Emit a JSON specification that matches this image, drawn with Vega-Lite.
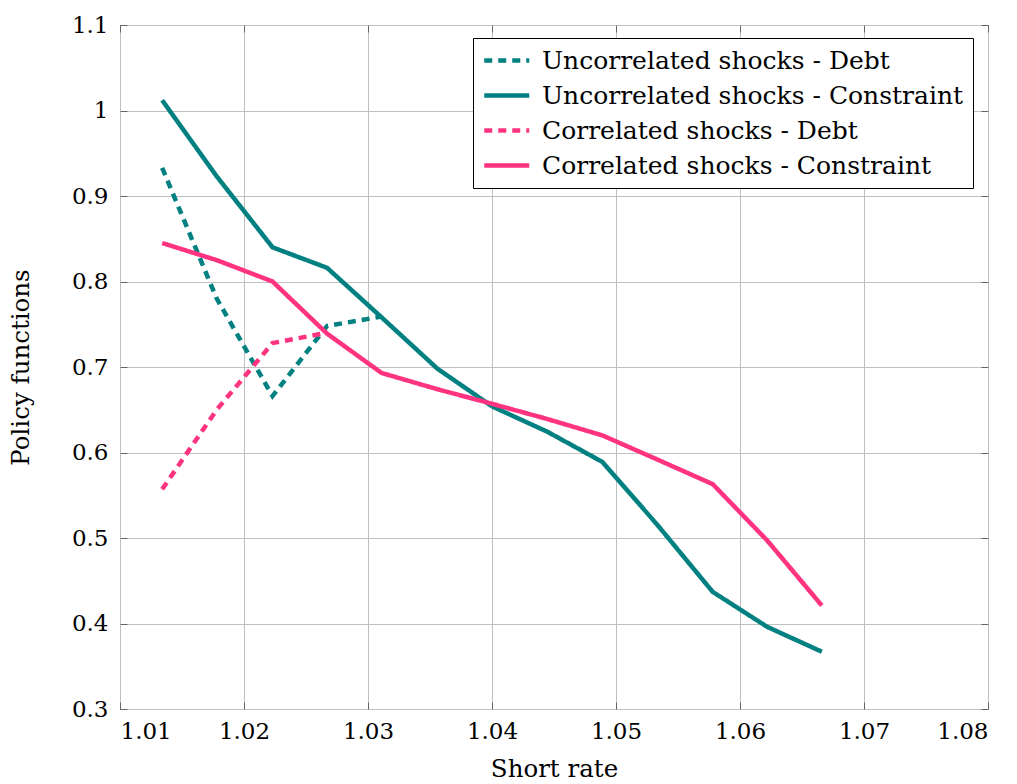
{
  "$schema": "https://vega.github.io/schema/vega-lite/v6.json",
  "width": 868,
  "height": 684,
  "autosize": {"type": "none"},
  "padding": {"left": 120, "top": 25, "right": 29, "bottom": 75},
  "background": "white",
  "config": {
    "view": {"stroke": "#000000", "strokeWidth": 1},
    "font": "DejaVu Serif",
    "axis": {
      "domain": false,
      "tickColor": "#666666",
      "tickSize": -7,
      "tickWidth": 1,
      "gridColor": "#c0c0c0",
      "gridWidth": 1,
      "labelFont": "DejaVu Serif",
      "labelFontSize": 23,
      "labelColor": "#000000",
      "titleFont": "DejaVu Serif",
      "titleFontSize": 24.5,
      "titleFontWeight": "normal",
      "titleColor": "#000000"
    }
  },
  "data": {
    "values": [
      {"x": 1.0134, "y": 0.933, "s": "Uncorrelated shocks - Debt"},
      {"x": 1.0178, "y": 0.780, "s": "Uncorrelated shocks - Debt"},
      {"x": 1.0223, "y": 0.666, "s": "Uncorrelated shocks - Debt"},
      {"x": 1.0267, "y": 0.748, "s": "Uncorrelated shocks - Debt"},
      {"x": 1.0311, "y": 0.759, "s": "Uncorrelated shocks - Debt"},
      {"x": 1.0134, "y": 1.012, "s": "Uncorrelated shocks - Constraint"},
      {"x": 1.0178, "y": 0.923, "s": "Uncorrelated shocks - Constraint"},
      {"x": 1.0223, "y": 0.840, "s": "Uncorrelated shocks - Constraint"},
      {"x": 1.0267, "y": 0.816, "s": "Uncorrelated shocks - Constraint"},
      {"x": 1.0311, "y": 0.758, "s": "Uncorrelated shocks - Constraint"},
      {"x": 1.0356, "y": 0.698, "s": "Uncorrelated shocks - Constraint"},
      {"x": 1.0400, "y": 0.654, "s": "Uncorrelated shocks - Constraint"},
      {"x": 1.0445, "y": 0.624, "s": "Uncorrelated shocks - Constraint"},
      {"x": 1.0489, "y": 0.589, "s": "Uncorrelated shocks - Constraint"},
      {"x": 1.0533, "y": 0.516, "s": "Uncorrelated shocks - Constraint"},
      {"x": 1.0578, "y": 0.437, "s": "Uncorrelated shocks - Constraint"},
      {"x": 1.0622, "y": 0.396, "s": "Uncorrelated shocks - Constraint"},
      {"x": 1.0666, "y": 0.367, "s": "Uncorrelated shocks - Constraint"},
      {"x": 1.0134, "y": 0.557, "s": "Correlated shocks - Debt"},
      {"x": 1.0178, "y": 0.650, "s": "Correlated shocks - Debt"},
      {"x": 1.0223, "y": 0.728, "s": "Correlated shocks - Debt"},
      {"x": 1.0267, "y": 0.740, "s": "Correlated shocks - Debt"},
      {"x": 1.0134, "y": 0.845, "s": "Correlated shocks - Constraint"},
      {"x": 1.0178, "y": 0.825, "s": "Correlated shocks - Constraint"},
      {"x": 1.0223, "y": 0.800, "s": "Correlated shocks - Constraint"},
      {"x": 1.0267, "y": 0.739, "s": "Correlated shocks - Constraint"},
      {"x": 1.0311, "y": 0.693, "s": "Correlated shocks - Constraint"},
      {"x": 1.0356, "y": 0.674, "s": "Correlated shocks - Constraint"},
      {"x": 1.0400, "y": 0.657, "s": "Correlated shocks - Constraint"},
      {"x": 1.0445, "y": 0.639, "s": "Correlated shocks - Constraint"},
      {"x": 1.0489, "y": 0.620, "s": "Correlated shocks - Constraint"},
      {"x": 1.0533, "y": 0.592, "s": "Correlated shocks - Constraint"},
      {"x": 1.0578, "y": 0.563, "s": "Correlated shocks - Constraint"},
      {"x": 1.0622, "y": 0.497, "s": "Correlated shocks - Constraint"},
      {"x": 1.0666, "y": 0.421, "s": "Correlated shocks - Constraint"}
    ]
  },
  "resolve": {"axis": {"x": "independent", "y": "independent"}},
  "layer": [
    {
      "mark": {"type": "line", "strokeWidth": 4.5, "strokeCap": "butt", "strokeJoin": "miter"},
      "encoding": {
        "x": {
          "field": "x", "type": "quantitative",
          "scale": {"domain": [1.01, 1.08], "nice": false, "zero": false},
          "axis": {"values": [1.01, 1.02, 1.03, 1.04, 1.05, 1.06, 1.07, 1.08], "format": "~g", "grid": true, "title": "Short rate", "labelBaseline": "alphabetic", "labelPadding": 36, "titleBaseline": "alphabetic", "titleY": 67}
        },
        "y": {
          "field": "y", "type": "quantitative",
          "scale": {"domain": [0.3, 1.1], "nice": false, "zero": false},
          "axis": {"values": [0.3, 0.4, 0.5, 0.6, 0.7, 0.8, 0.9, 1, 1.1], "format": "~g", "grid": true, "title": "Policy functions", "labelPadding": 19, "titleX": -87, "titleBaseline": "bottom"}
        },
        "color": {
          "field": "s", "type": "nominal",
          "scale": {
            "domain": ["Uncorrelated shocks - Debt", "Uncorrelated shocks - Constraint", "Correlated shocks - Debt", "Correlated shocks - Constraint"],
            "range": ["#008080", "#008080", "#ff3380", "#ff3380"]
          },
          "legend": {
            "title": null,
            "orient": "none",
            "legendX": 353,
            "legendY": 13,
            "strokeColor": "#000000",
            "fillColor": "#ffffff",
            "padding": 9,
            "labelFont": "DejaVu Serif",
            "labelFontSize": 25,
            "labelColor": "#000000",
            "symbolType": "M-1,0H3",
            "symbolSize": 506,
            "symbolStrokeWidth": 4.5,
            "rowPadding": 8,
            "labelOffset": 33,
            "labelLimit": 700
          }
        },
        "strokeDash": {
          "field": "s", "type": "nominal",
          "scale": {
            "domain": ["Uncorrelated shocks - Debt", "Uncorrelated shocks - Constraint", "Correlated shocks - Debt", "Correlated shocks - Constraint"],
            "range": [[8, 6], [1, 0], [8, 6], [1, 0]]
          }
        },
        "order": {"field": "x", "type": "quantitative"}
      }
    },
    {
      "mark": {"type": "line", "opacity": 0},
      "encoding": {
        "x": {"field": "x", "type": "quantitative", "axis": {"orient": "top", "values": [1.01, 1.02, 1.03, 1.04, 1.05, 1.06, 1.07, 1.08], "labels": false, "grid": false, "title": null}},
        "y": {"field": "y", "type": "quantitative", "axis": {"orient": "right", "values": [0.3, 0.4, 0.5, 0.6, 0.7, 0.8, 0.9, 1, 1.1], "labels": false, "grid": false, "title": null}},
        "detail": {"field": "s", "type": "nominal"}
      }
    }
  ]
}
